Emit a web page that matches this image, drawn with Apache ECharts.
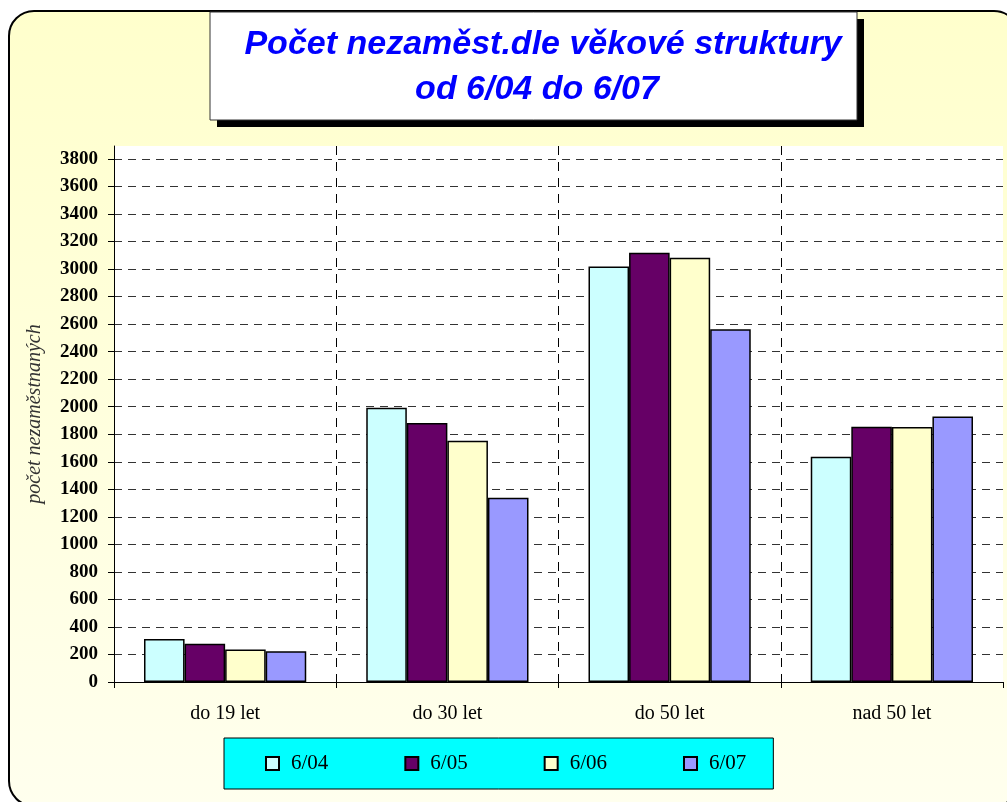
<!DOCTYPE html>
<html>
<head>
<meta charset="utf-8">
<script src="https://cdn.jsdelivr.net/npm/echarts@6/dist/echarts.min.js"></script>
<style>
  html, body { margin: 0; padding: 0; background: #fff; }
  #chart { width: 1007px; height: 802px; }
</style>
</head>
<body>
<div id="chart"></div>
<script>
// data
const categories = ['do 19 let', 'do 30 let', 'do 50 let', 'nad 50 let'];
const seriesNames = ['6/04', '6/05', '6/06', '6/07'];
const values0604 = [313, 1993, 3018, 1637];
const values0605 = [278, 1882, 3119, 1855];
const values0606 = [236, 1753, 3083, 1853];
const values0607 = [223, 1339, 2563, 1928];
const seriesColors = ['#CCFFFF', '#660066', '#FFFFCC', '#9999FF'];
const titleLines = ['Počet nezaměst.dle věkové struktury', 'od 6/04 do 6/07'];
const yName = 'počet nezaměstnaných';

const chart = echarts.init(document.getElementById('chart'));

const allValues = [values0604, values0605, values0606, values0607];

const series = seriesNames.map((name, i) => ({
  name: name,
  type: 'bar',
  data: allValues[i],
  barGap: '0%',
  barCategoryGap: '27%',
  itemStyle: {
    color: seriesColors[i],
    borderColor: '#000',
    borderWidth: 1.5
  }
}));

const titleFont = 'italic bold 34px "Liberation Sans", Arial, sans-serif';

const option = {
  animation: false,
  graphic: [
    {
      // rounded chart frame
      type: 'rect',
      z: -10,
      shape: { x: 9, y: 11, width: 1010, height: 795, r: 25 },
      style: {
        fill: new echarts.graphic.LinearGradient(0, 0, 0, 1, [
          { offset: 0, color: '#FFFFCC' },
          { offset: 1, color: '#FFFFEE' }
        ]),
        stroke: '#000',
        lineWidth: 2
      }
    },
    {
      type: 'rect',
      shape: { x: 217, y: 19, width: 647, height: 108 },
      style: { fill: '#000' }
    },
    {
      type: 'rect',
      shape: { x: 210, y: 12, width: 647, height: 108 },
      style: { fill: '#fff', stroke: '#333', lineWidth: 1 }
    },
    {
      type: 'text',
      style: {
        text: titleLines[0],
        x: 543, y: 45,
        align: 'center', verticalAlign: 'middle',
        fill: '#0000FF',
        font: titleFont
      }
    },
    {
      type: 'text',
      style: {
        text: titleLines[1],
        x: 537, y: 90,
        align: 'center', verticalAlign: 'middle',
        fill: '#0000FF',
        font: titleFont
      }
    }
  ],
  grid: {
    left: 114,
    right: 4,
    top: 146,
    bottom: 120,
    show: true,
    backgroundColor: '#fff',
    borderWidth: 0
  },
  legend: {
    data: seriesNames,
    left: 224,
    top: 738,
    orient: 'horizontal',
    icon: 'rect',
    itemWidth: 13,
    itemHeight: 13,
    itemGap: 76,
    padding: [15, 27, 15, 41],
    backgroundColor: '#00FFFF',
    borderColor: '#000',
    borderWidth: 1,
    textStyle: {
      fontFamily: '"Liberation Serif", "Times New Roman", serif',
      fontSize: 21,
      color: '#000',
      padding: [0, 0, 0, 7]
    }
  },
  xAxis: {
    type: 'category',
    data: categories,
    axisLine: { lineStyle: { color: '#000', width: 1 } },
    axisTick: { show: true, length: 6, lineStyle: { color: '#000' } },
    axisLabel: {
      fontFamily: '"Liberation Serif", "Times New Roman", serif',
      fontSize: 20,
      color: '#000',
      margin: 22
    },
    splitLine: {
      show: true,
      showMaxLine: false,
      lineStyle: { color: '#000', type: [9, 7], width: 1 }
    }
  },
  yAxis: {
    type: 'value',
    min: 0,
    max: 3894,
    interval: 200,
    name: yName,
    nameLocation: 'middle',
    nameGap: 69,
    nameTextStyle: {
      fontFamily: '"Liberation Serif", "Times New Roman", serif',
      fontStyle: 'italic',
      fontSize: 20,
      color: '#333'
    },
    axisLine: { show: true, lineStyle: { color: '#000', width: 1 } },
    axisTick: { show: true, length: 6, lineStyle: { color: '#000' } },
    axisLabel: {
      fontFamily: '"Liberation Serif", "Times New Roman", serif',
      fontWeight: 'bold',
      fontSize: 19,
      color: '#000',
      margin: 16,
      showMaxLabel: false,
      formatter: (v) => String(v)
    },
    splitLine: {
      show: true,
      showMaxLine: false,
      lineStyle: { color: '#333', type: [8, 6], width: 1 }
    }
  },
  series: series
};

chart.setOption(option);
</script>
</body>
</html>
